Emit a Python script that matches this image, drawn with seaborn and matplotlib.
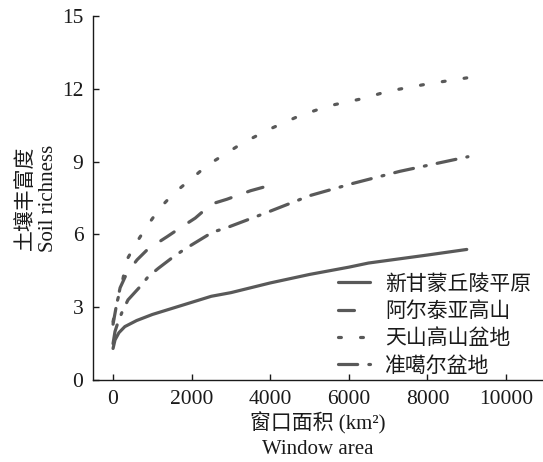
import matplotlib
matplotlib.use("Agg")
import matplotlib.pyplot as plt
import seaborn as sns
import pandas as pd

sns.set_theme(style="ticks")
plt.rcParams['font.family'] = ['Liberation Serif', 'Noto Sans CJK SC']

labels = ["新甘蒙丘陵平原", "阿尔泰亚高山", "天山高山盆地", "准噶尔盆地"]

x_solid = [0, 50, 150, 300, 600, 1000, 1500, 2000, 2500, 3000, 4000, 5000, 6000, 6500, 7000, 8000, 9000]
y_solid = [1.3, 1.65, 1.95, 2.2, 2.45, 2.7, 2.95, 3.2, 3.45, 3.6, 4.0, 4.35, 4.65, 4.82, 4.93, 5.15, 5.38]

x_dash = [0, 100, 180, 350, 610, 890, 1370, 1700, 2090, 2390, 2600, 2900, 3500, 4170]
y_dash = [2.3, 3.2, 3.8, 4.4, 4.95, 5.4, 5.9, 6.26, 6.67, 7.09, 7.3, 7.45, 7.8, 8.1]

x_dot = [0, 100, 230, 350, 610, 890, 1200, 1550, 2000, 2400, 3300, 4000, 4760, 5500, 6360, 7000, 8000, 9000]
y_dot = [2.4, 3.2, 4.0, 4.95, 5.7, 6.4, 7.1, 7.7, 8.3, 8.85, 9.77, 10.35, 10.9, 11.3, 11.6, 11.9, 12.2, 12.45]

x_dd = [0, 50, 120, 230, 380, 690, 890, 1150, 1530, 1830, 2540, 2850, 3910, 5010, 6100, 7300, 9030]
y_dd = [1.5, 2.0, 2.35, 2.8, 3.3, 3.85, 4.25, 4.6, 5.07, 5.4, 6.1, 6.25, 6.9, 7.6, 8.1, 8.6, 9.2]

xticks = [0, 2000, 4000, 6000, 8000, 10000]
yticks = [0, 3, 6, 9, 12, 15]

color = "#595959"
fig = plt.figure(figsize=(5.43, 4.62), dpi=100)
ax = fig.add_axes([93/543, 82/462, 450/543, 364/462])

series = [
    (x_solid, y_solid, '-', 'round'),
    (x_dash, y_dash, (0, (5, 5.5)), 'round'),
    (x_dot, y_dot, (0, (0.9, 6)), 'round'),
    (x_dd, y_dd, (0, (6, 3.5, 0.6, 3.5)), 'round'),
]
for (xs, ys, ls, cap), lab in zip(series, labels):
    df = pd.DataFrame({"x": xs, "y": ys})
    sns.lineplot(data=df, x="x", y="y", ax=ax, color=color, linewidth=2.3,
                 label=lab, linestyle=ls, dash_capstyle=cap, solid_capstyle='round')

ax.set_xlim(-510, 10940)
ax.set_ylim(0, 15)
ax.set_xticks(xticks)
ax.set_yticks(yticks)
ax.tick_params(direction='in', length=4, width=1, labelsize=15.5, colors='#1a1a1a', pad=7)
for s in ['top', 'right']:
    ax.spines[s].set_visible(False)
for s in ['left', 'bottom']:
    ax.spines[s].set_linewidth(1.0)
    ax.spines[s].set_color('#1a1a1a')

ax.set_xlabel("窗口面积 (km²)\nWindow area", fontsize=15, linespacing=1.4, color='#1a1a1a', labelpad=2.5)
ax.set_ylabel("土壤丰富度\nSoil richness", fontsize=15, linespacing=1.2, color='#1a1a1a', labelpad=3)

leg = ax.legend(loc='upper left', bbox_to_anchor=((338 - 93) / 450, (380 - 275) / 364),
                frameon=False, fontsize=15, handlelength=1.55, handletextpad=0.7,
                labelspacing=0.36, borderpad=0, borderaxespad=0)
for t in leg.get_texts():
    t.set_color('#1a1a1a')

fig.savefig("out.png", dpi=100)
